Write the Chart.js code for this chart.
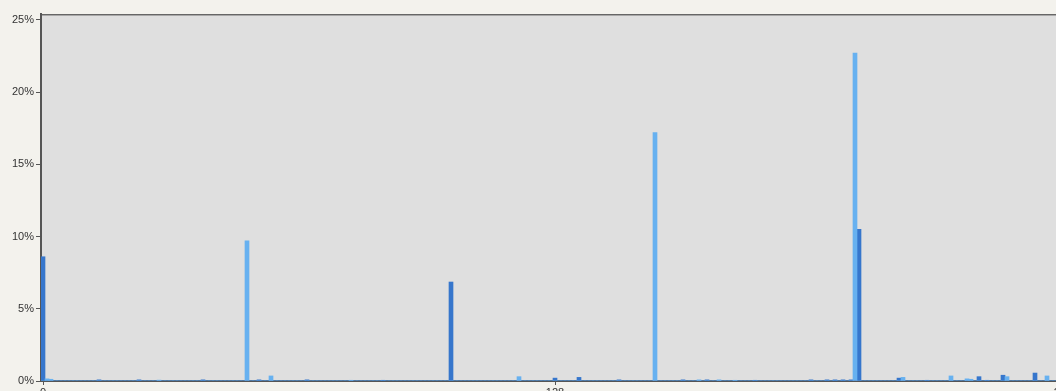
<!DOCTYPE html>
<html>
<head>
<meta charset="utf-8">
<script src="https://cdn.jsdelivr.net/npm/chart.js@4/dist/chart.umd.min.js"></script>
<style>
  html, body { margin: 0; padding: 0; overflow: hidden; background: #f3f2ed; }
  #wrap { width: 1080px; height: 405px; }
</style>
</head>
<body>
<div id="wrap"><canvas id="histChart" width="1080" height="405"></canvas></div>
<script>
// byte values 0..255 on the x axis
const byteLabels = [];
for (let i = 0; i < 256; i++) byteLabels.push(String(i));
const xTickValues = [0, 128, 255];
const yTickValues = [0, 5, 10, 15, 20, 25];

// light series (only the non-zero bytes)
const lightBytes  = [1, 2, 29, 51, 57, 77, 119, 153, 164, 169, 173, 203, 215, 227, 231, 232, 241, 251];
const lightValues = [0.15, 0.12, 0.06, 9.7, 0.35, 0.05, 0.3, 17.2, 0.08, 0.08, 0.05, 22.7, 0.25, 0.35, 0.15, 0.12, 0.3, 0.35];

// dark series (only the non-zero bytes)
const darkBytes  = [0, 14, 24, 40, 54, 66, 85, 102, 128, 134, 144, 160, 166, 178, 192, 196, 198, 200, 202, 204, 214, 221, 234, 236, 240, 248];
const darkValues = [8.6, 0.08, 0.08, 0.08, 0.08, 0.08, 0.05, 6.85, 0.2, 0.25, 0.08, 0.08, 0.08, 0.05, 0.08, 0.08, 0.08, 0.08, 0.08, 10.5, 0.2, 0.05, 0.3, 0.05, 0.4, 0.55];

function fullSeries(bytes, values) {
  const arr = new Array(256).fill(0);
  bytes.forEach((b, i) => { arr[b] = values[i]; });
  return arr;
}

// gray plot background + top border
const plotBackground = {
  id: 'plotBackground',
  beforeDraw(chart) {
    const { ctx, chartArea } = chart;
    ctx.save();
    ctx.fillStyle = '#dfdfdf';
    ctx.fillRect(chartArea.left, chartArea.top, chartArea.right - chartArea.left, chartArea.bottom - chartArea.top);
    ctx.strokeStyle = '#666666';
    ctx.lineWidth = 1;
    ctx.beginPath();
    ctx.moveTo(chartArea.left, chartArea.top + 0.5);
    ctx.lineTo(chartArea.right, chartArea.top + 0.5);
    ctx.stroke();
    ctx.strokeStyle = '#a8a8a8';
    ctx.beginPath();
    ctx.moveTo(chartArea.left, chartArea.top + 1.5);
    ctx.lineTo(chartArea.right, chartArea.top + 1.5);
    ctx.stroke();
    ctx.restore();
  }
};

const ctx = document.getElementById('histChart').getContext('2d');
new Chart(ctx, {
  type: 'bar',
  data: {
    labels: byteLabels,
    datasets: [{
      label: 'light',
      data: fullSeries(lightBytes, lightValues),
      backgroundColor: '#67b1f0',
      grouped: false,
      barPercentage: 1,
      categoryPercentage: 1
    }, {
      label: 'dark',
      data: fullSeries(darkBytes, darkValues),
      backgroundColor: '#3676cc',
      grouped: false,
      barPercentage: 1,
      categoryPercentage: 1
    }]
  },
  options: {
    responsive: false,
    animation: false,
    layout: { padding: { top: 14, right: 15, left: 0, bottom: 0 } },
    plugins: { legend: { display: false }, tooltip: { enabled: false } },
    scales: {
      x: {
        offset: true,
        grid: { display: true, drawOnChartArea: false, drawTicks: true, tickLength: 4, offset: false, color: '#555555' },
        border: { display: true, color: '#555555', width: 2 },
        ticks: {
          autoSkip: false,
          maxRotation: 0,
          padding: 1,
          color: '#333333',
          font: { family: 'Liberation Sans', size: 11 }
        },
        afterBuildTicks(scale) {
          scale.ticks = scale.ticks.filter(t => xTickValues.includes(t.value));
        },
        afterFit(scale) { scale.height = 24; }
      },
      y: {
        min: 0,
        max: 25.4,
        grid: { display: true, drawOnChartArea: false, drawTicks: true, tickLength: 5, color: '#555555' },
        border: { display: true, color: '#555555', width: 2 },
        ticks: {
          padding: 2,
          color: '#333333',
          font: { family: 'Liberation Sans', size: 11 },
          callback: v => v + '%'
        },
        afterBuildTicks(scale) {
          scale.ticks = yTickValues.map(v => ({ value: v }));
        },
        afterFit(scale) { scale.width = 41; }
      }
    }
  },
  plugins: [plotBackground]
});
</script>
</body>
</html>
